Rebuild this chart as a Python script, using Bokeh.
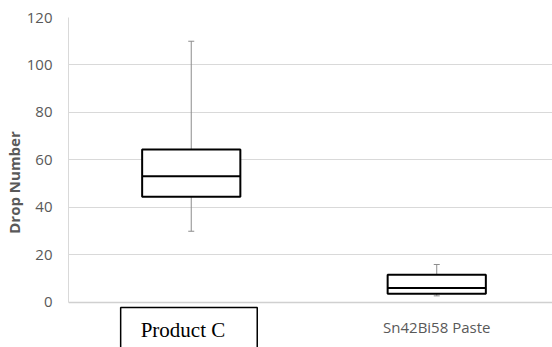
from bokeh.plotting import figure
from bokeh.models import Range1d, FixedTicker, Label, Span
from bokeh.embed import file_html
from bokeh.resources import INLINE

categories = ["Product C", "Sn42Bi58 Paste"]
whisker_low = [30, 2.8]
q1 = [44.5, 3.7]
median = [53.2, 6.1]
q3 = [64.4, 11.7]
whisker_high = [110, 16]
y_ticks = [0, 20, 40, 60, 80, 100, 120]

positions = [i + 0.5 for i in range(len(categories))]
box_w = 0.4
GRAY_TXT = "#595959"
WHISK = "#8c8c8c"

p = figure(width=552, height=347, output_backend="svg", toolbar_location=None,
           x_range=Range1d(0, 1.9715), y_range=Range1d(-18.95, 120),
           min_border_left=68, min_border_right=0, min_border_top=17, min_border_bottom=0)
p.outline_line_color = None
p.background_fill_color = "white"

# grid
p.xgrid.grid_line_color = None
p.ygrid.grid_line_color = "#d9d9d9"
p.ygrid.grid_line_width = 1
p.yaxis.ticker = FixedTicker(ticks=y_ticks)

# y axis
p.yaxis.bounds = (0, 120)
p.yaxis.axis_line_color = "#d9d9d9"
p.yaxis.major_tick_line_color = None
p.yaxis.minor_tick_line_color = None
p.yaxis.major_tick_out = 0
p.yaxis.major_tick_in = 0
p.yaxis.major_label_text_font = "Open Sans"
p.yaxis.major_label_text_font_size = "15px"
p.yaxis.major_label_text_color = GRAY_TXT
p.yaxis.major_label_standoff = 16
p.yaxis.axis_label = "Drop Number"
p.yaxis.axis_label_text_font = "Open Sans"
p.yaxis.axis_label_text_font_style = "bold"
p.yaxis.axis_label_text_font_size = "15px"
p.yaxis.axis_label_text_color = GRAY_TXT
p.yaxis.axis_label_standoff = 0

# x axis drawn as a baseline + labels
p.xaxis.visible = False
p.add_layout(Span(location=0, dimension="width", line_color="#d0d0d0", line_width=1.5))

# whiskers
p.segment(positions, q3, positions, whisker_high, line_color=WHISK, line_width=1)
p.segment(positions, q1, positions, whisker_low, line_color=WHISK, line_width=1)
p.scatter(positions, whisker_high, marker="dash", size=6, line_color=WHISK, line_width=1)
p.scatter(positions, whisker_low, marker="dash", size=6, line_color=WHISK, line_width=1)

# boxes
p.vbar(x=positions, bottom=q1, top=q3, width=box_w, fill_color="white",
       line_color="black", line_width=2)
p.segment([x - box_w / 2 for x in positions], median,
          [x + box_w / 2 for x in positions], median,
          line_color="black", line_width=2)

# category labels
p.add_layout(Label(x=positions[1], y=0, text=categories[1], y_offset=-25,
                   text_font="Open Sans", text_font_size="15px", text_color=GRAY_TXT,
                   text_align="center", text_baseline="middle"))
p.add_layout(Label(x=positions[0], y=0, text=categories[0], y_offset=-5,
                   text_font="Liberation Serif", text_font_size="21px", text_color="black",
                   text_align="center", text_baseline="top", x_offset=-2.3,
                   border_line_color="black", border_line_width=1.5,
                   background_fill_color="white",
                   padding=dict(left=20, right=32, top=11, bottom=30)))

open("out.html", "w").write(file_html(p, INLINE))
